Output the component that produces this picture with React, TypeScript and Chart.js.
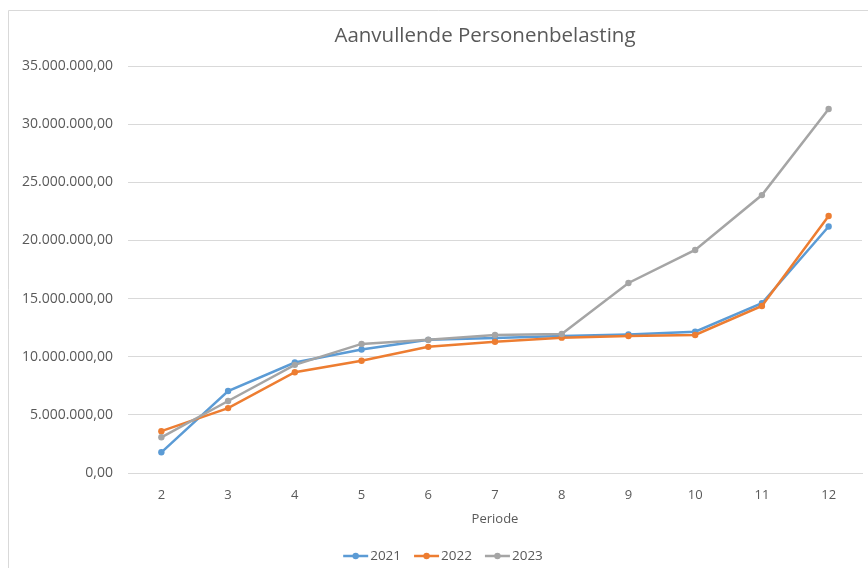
import React, { useEffect, useRef } from "react";
import { Chart, registerables } from "chart.js";

Chart.register(...registerables);

const categories = ["2", "3", "4", "5", "6", "7", "8", "9", "10", "11", "12"];
const series2021 = [1780000, 7050000, 9500000, 10620000, 11450000, 11620000, 11780000, 11920000, 12150000, 14600000, 21200000];
const series2022 = [3600000, 5580000, 8670000, 9650000, 10850000, 11280000, 11640000, 11780000, 11870000, 14360000, 22100000];
const series2023 = [3070000, 6190000, 9300000, 11100000, 11460000, 11870000, 11950000, 16340000, 19180000, 23900000, 31300000];
const seriesNames = ["2021", "2022", "2023"];
const seriesColors = ["#5B9BD5", "#ED7D31", "#A5A5A5"];
const chartTitle = "Aanvullende Personenbelasting";
const xTitle = "Periode";

const FONT = "'Open Sans', Lato, sans-serif";
const TEXT = "#595959";

function fmt(v: number): string {
  const neg = v < 0;
  const abs = Math.abs(v);
  const intPart = Math.floor(abs + 1e-9);
  const dec = Math.round((abs - intPart) * 100);
  const s = String(intPart).replace(/\B(?=(\d{3})+(?!\d))/g, ".");
  return (neg ? "-" : "") + s + "," + String(dec).padStart(2, "0");
}

const decorPlugin = {
  id: "decor",
  beforeDraw(chart: any) {
    const ctx = chart.ctx;
    ctx.save();
    ctx.strokeStyle = "#D9D9D9";
    ctx.lineWidth = 1;
    ctx.beginPath();
    ctx.moveTo(8.5, 568);
    ctx.lineTo(8.5, 10.5);
    ctx.lineTo(868, 10.5);
    ctx.stroke();
    ctx.restore();
  },
  afterDraw(chart: any) {
    const ctx = chart.ctx;
    const area = chart.chartArea;
    ctx.save();
    ctx.fillStyle = TEXT;
    ctx.textBaseline = "middle";
    ctx.textAlign = "center";
    ctx.font = `20.5px ${FONT}`;
    ctx.fillText(chartTitle, 485, 36);
    ctx.font = `13px ${FONT}`;
    ctx.fillText(xTitle, (area.left + area.right) / 2, 519);

    // legend
    ctx.font = `13.5px ${FONT}`;
    const lineW = 25;
    const gapText = 2;
    const gapItem = 13;
    const widths = seriesNames.map((n) => lineW + gapText + ctx.measureText(n).width);
    const total = widths.reduce((a, b) => a + b, 0) + gapItem * (widths.length - 1);
    let x = 443 - total / 2;
    const y = 556;
    ctx.textAlign = "left";
    seriesNames.forEach((n, i) => {
      ctx.strokeStyle = seriesColors[i];
      ctx.fillStyle = seriesColors[i];
      ctx.lineWidth = 2.5;
      ctx.beginPath();
      ctx.moveTo(x, y);
      ctx.lineTo(x + lineW, y);
      ctx.stroke();
      ctx.beginPath();
      ctx.arc(x + lineW / 2, y, 3.2, 0, Math.PI * 2);
      ctx.fill();
      ctx.fillStyle = TEXT;
      ctx.fillText(n, x + lineW + gapText, y);
      x += widths[i] + gapItem;
    });
    ctx.restore();
  },
};

export default function App() {
  const ref = useRef<HTMLCanvasElement>(null);
  useEffect(() => {
    if (!ref.current) return;
    const all = [series2021, series2022, series2023];
    const chart = new Chart(ref.current, {
      type: "line",
      data: {
        labels: categories,
        datasets: all.map((d, i) => ({
          label: seriesNames[i],
          data: d,
          borderColor: seriesColors[i],
          backgroundColor: seriesColors[i],
          borderWidth: 2.5,
          pointRadius: 3.2,
          pointHoverRadius: 3.2,
          pointBorderWidth: 0,
          tension: 0,
          order: 3 - i,
        })),
      },
      options: {
        responsive: false,
        animation: false,
        maintainAspectRatio: false,
        layout: { padding: { left: 8, right: 6, top: 66, bottom: 65 } },
        plugins: {
          title: { display: false },
          legend: { display: false },
          tooltip: { enabled: false },
        },
        scales: {
          x: {
            offset: true,
            grid: { display: false, drawTicks: false },
            border: { display: true, color: "#D9D9D9", width: 1 },
            ticks: { color: TEXT, font: { family: FONT, size: 13 }, padding: 14 },
            afterFit: (s: any) => {
              s.height = 30;
            },
          },
          y: {
            min: 0,
            max: 35000000,
            grid: { color: "#D9D9D9", drawTicks: false },
            border: { display: false },
            afterFit: (s: any) => {
              s.width = 120;
            },
            ticks: {
              stepSize: 5000000,
              color: TEXT,
              font: { family: FONT, size: 14 },
              padding: 15,
              callback: (v: any) => fmt(Number(v)),
            },
          },
        },
      },
      plugins: [decorPlugin],
    });
    return () => chart.destroy();
  }, []);
  return (
    <div style={{ position: "absolute", left: 0, top: 0, width: 868, height: 568 }}>
      <canvas ref={ref} width={868} height={568} style={{ display: "block" }} />
    </div>
  );
}
